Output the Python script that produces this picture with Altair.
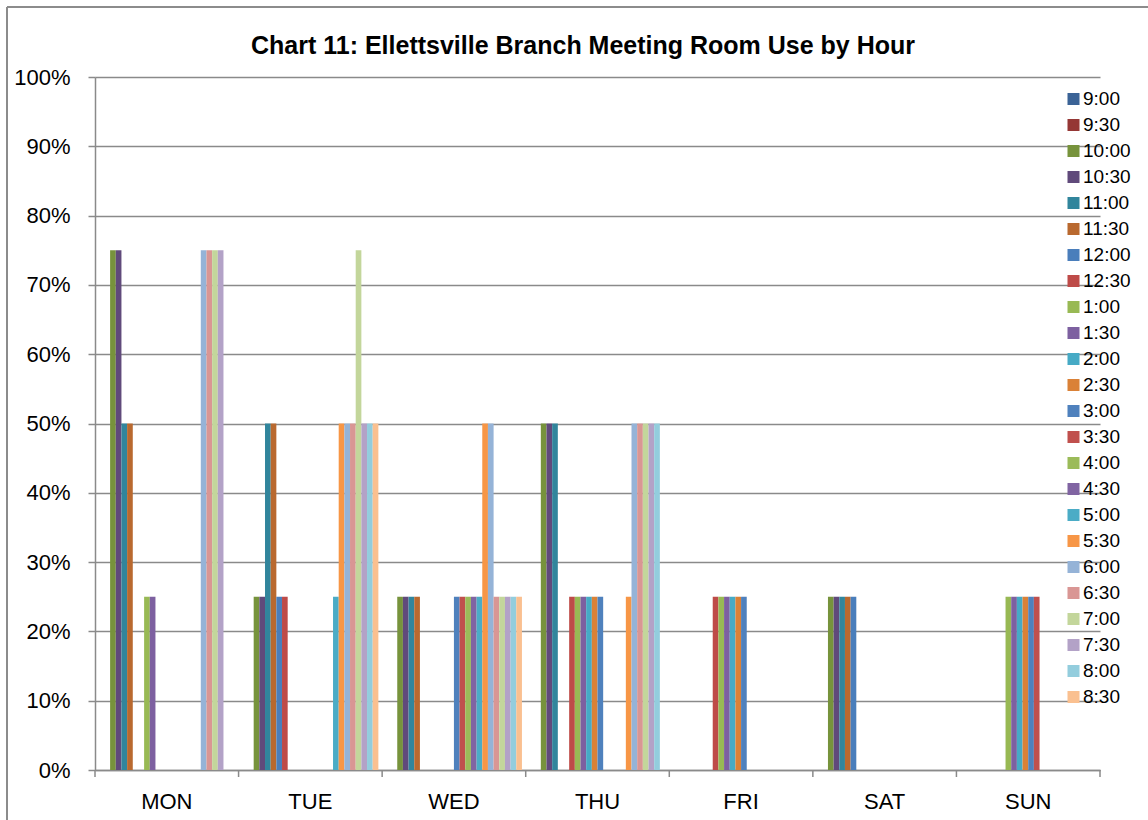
import altair as alt
import pandas as pd

days = ["MON", "TUE", "WED", "THU", "FRI", "SAT", "SUN"]
hours = ["9:00", "9:30", "10:00", "10:30", "11:00", "11:30", "12:00", "12:30",
         "1:00", "1:30", "2:00", "2:30", "3:00", "3:30", "4:00", "4:30",
         "5:00", "5:30", "6:00", "6:30", "7:00", "7:30", "8:00", "8:30"]
colors = ["#3B6396", "#953735", "#77933C", "#604A7B", "#31859C", "#B9692F",
          "#4A7EBB", "#BE4B48", "#98B954", "#7D60A0", "#46AAC5", "#DA8137",
          "#4F81BD", "#C0504D", "#9BBB59", "#8064A2", "#4BACC6", "#F79646",
          "#95B3D7", "#D99694", "#C3D69B", "#B3A2C7", "#93CDDD", "#FAC090"]
title_text = "Chart 11: Ellettsville Branch Meeting Room Use by Hour"

#        9:00 9:30 10  10:30 11  11:30 12 12:30 1  1:30  2  2:30  3  3:30  4  4:30  5  5:30  6  6:30  7  7:30  8  8:30
mon = [0, 0, .75, .75, .50, .50, 0, 0, .25, .25, 0, 0, 0, 0, 0, 0, 0, 0, .75, .75, .75, .75, 0, 0]
tue = [0, 0, .25, .25, .50, .50, .25, .25, 0, 0, 0, 0, 0, 0, 0, 0, .25, .50, .50, .50, .75, .50, .50, .50]
wed = [0, 0, .25, .25, .25, .25, 0, 0, 0, 0, 0, 0, .25, .25, .25, .25, .25, .50, .50, .25, .25, .25, .25, .25]
thu = [0, 0, .50, .50, .50, 0, 0, .25, .25, .25, .25, .25, .25, 0, 0, 0, 0, .25, .50, .50, .50, .50, .50, 0]
fri = [0, 0, 0, 0, 0, 0, 0, .25, .25, .25, .25, .25, .25, 0, 0, 0, 0, 0, 0, 0, 0, 0, 0, 0]
sat = [0, 0, .25, .25, .25, .25, .25, 0, 0, 0, 0, 0, 0, 0, 0, 0, 0, 0, 0, 0, 0, 0, 0, 0]
sun = [0, 0, 0, 0, 0, 0, 0, 0, .25, .25, .25, .25, .25, .25, 0, 0, 0, 0, 0, 0, 0, 0, 0, 0]

series = {"MON": mon, "TUE": tue, "WED": wed, "THU": thu, "FRI": fri, "SAT": sat, "SUN": sun}
rows = []
for d in days:
    for h, v in zip(hours, series[d]):
        if v > 0:
            rows.append({"day": d, "hour": h, "value": v})
df = pd.DataFrame(rows)
tick_df = pd.DataFrame({"day": days})
one = pd.DataFrame({"t": [title_text]})

W, H = 1005, 693
FONT = "Liberation Sans"
GRID = "#8a8a8a"

xscale = alt.Scale(domain=days, paddingInner=0, paddingOuter=0)

bars = alt.Chart(df).mark_bar().encode(
    x=alt.X("day:N", sort=days, scale=xscale,
            axis=alt.Axis(title=None, labelAngle=0, ticks=False, labelFontSize=22,
                          labelFont=FONT, labelColor="#000", labelPadding=21,
                          domainColor=GRID, domainWidth=1.5)),
    xOffset=alt.XOffset("hour:N", sort=hours,
                        scale=alt.Scale(domain=hours, paddingInner=0, paddingOuter=0.665)),
    y=alt.Y("value:Q", scale=alt.Scale(domain=[0, 1], nice=False),
            axis=alt.Axis(title=None, format=".0%", values=[i / 10 for i in range(11)],
                          labelFontSize=22, labelFont=FONT, labelColor="#000",
                          labelPadding=18, tickSize=7, tickColor=GRID, tickWidth=1.5,
                          domainColor=GRID, domainWidth=1.5,
                          grid=True, gridColor=GRID, gridWidth=1.5)),
    color=alt.Color("hour:N", sort=hours,
                    scale=alt.Scale(domain=hours, range=colors),
                    legend=alt.Legend(title=None, orient="none", legendX=969, legendY=12,
                                      symbolType="square", symbolSize=144,
                                      symbolStrokeWidth=0, labelFontSize=19,
                                      labelFont=FONT, labelColor="#000",
                                      rowPadding=6, clipHeight=20, padding=0,
                                      labelOffset=0)),
)

ticks = alt.Chart(tick_df).mark_rule(color=GRID, strokeWidth=1.5).encode(
    x=alt.X("day:N", sort=days, scale=xscale, bandPosition=0),
    y=alt.value(H), y2=alt.value(H + 7),
)
last_tick = alt.Chart(one).mark_rule(color=GRID, strokeWidth=1.5).encode(
    x=alt.value(W), y=alt.value(H), y2=alt.value(H + 7),
)
border_left = alt.Chart(one).mark_rule(color="#8c8c8c", strokeWidth=2).encode(
    x=alt.value(-88), y=alt.value(-70), y2=alt.value(H + 60),
)
border_top = alt.Chart(one).mark_rule(color="#8c8c8c", strokeWidth=2).encode(
    x=alt.value(-88), x2=alt.value(W + 60), y=alt.value(-70),
)
title = alt.Chart(one).mark_text(font=FONT, fontSize=25, fontWeight="bold", color="#000",
                                 align="center", baseline="middle").encode(
    text="t:N", x=alt.value(W / 2 - 14.5), y=alt.value(-31),
)

chart = alt.layer(bars, ticks, last_tick, border_left, border_top, title).properties(
    width=W, height=H,
    autosize=alt.AutoSizeParams(type="none"),
    padding={"left": 95, "top": 77, "right": 48, "bottom": 50},
).configure_view(stroke=None)

chart.save("out.html", embed_options={"renderer": "svg", "actions": False})
